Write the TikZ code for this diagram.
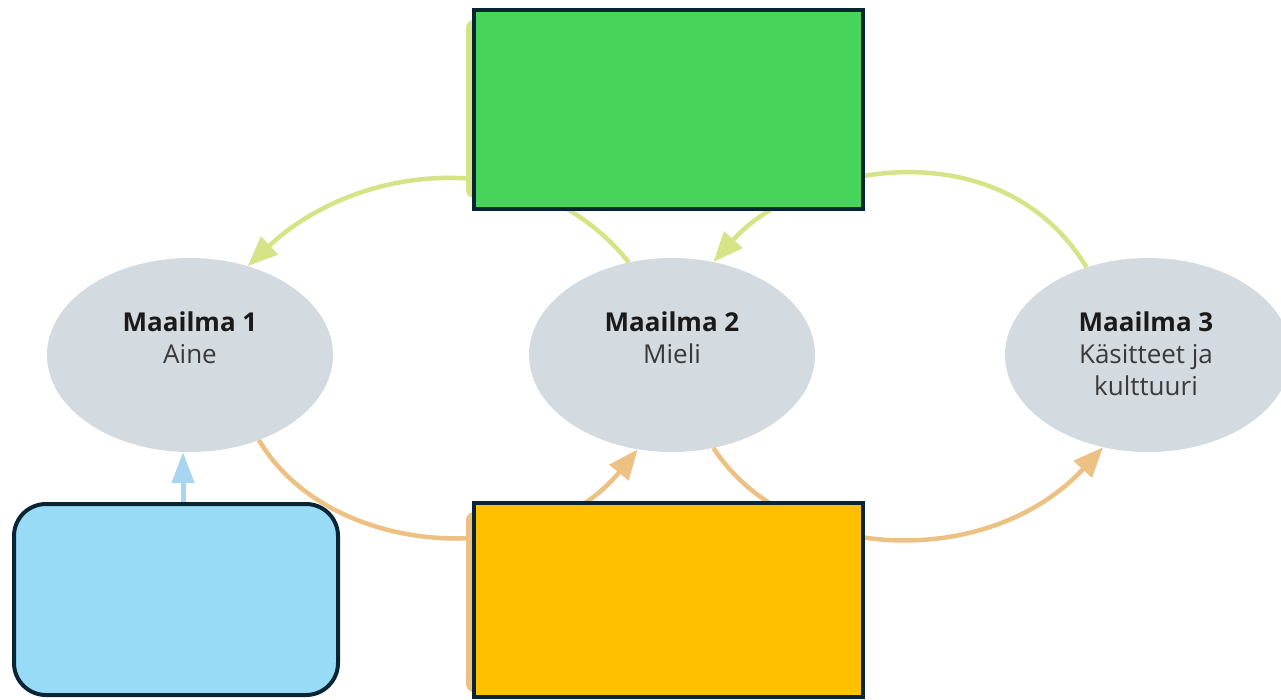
\documentclass[tikz,border=0pt]{standalone}
\usepackage{fontspec}
\setmainfont{Open Sans}
\usetikzlibrary{arrows.meta,shapes.geometric,calc}
\definecolor{navy}{HTML}{082535}
\definecolor{boxgreen}{HTML}{47D45B}
\definecolor{boxorange}{HTML}{FFC000}
\definecolor{boxblue}{HTML}{98DBF7}
\definecolor{worldgray}{HTML}{D3DAE0}
\definecolor{arrgreen}{HTML}{D7E387}
\definecolor{arrorange}{HTML}{EDC184}
\definecolor{arrblue}{HTML}{A8D5F0}
\definecolor{txtdark}{HTML}{1A1A1A}
\definecolor{txtgray}{HTML}{3A3A3A}
\tikzset{
  world/.style={ellipse, fill=worldgray, draw=none, minimum width=286pt, minimum height=194pt, inner sep=0pt},
  wtext/.style={align=center, anchor=base, inner sep=0pt, text=txtgray, font=\fontsize{26}{32}\selectfont},
  ghostgreen/.style={rectangle, rounded corners=8pt, fill=arrgreen, draw=none, minimum width=394pt, minimum height=178pt, inner sep=0pt},
  ghostorange/.style={rectangle, rounded corners=8pt, fill=arrorange, draw=none, minimum width=394pt, minimum height=180pt, inner sep=0pt},
  bigbox/.style={rectangle, draw=navy, line width=4pt, minimum width=389pt, inner sep=0pt},
  bluebox/.style={rectangle, rounded corners=32pt, draw=navy, fill=boxblue, line width=4pt, minimum width=324pt, minimum height=191pt, inner sep=0pt},
  tiphead/.style={-{Triangle[length=30pt,width=24pt]}},
  garrow/.style={tiphead, draw=arrgreen, line width=4.5pt},
  oarrow/.style={tiphead, draw=arrorange, line width=4.5pt},
  barrow/.style={-{Triangle[length=31pt,width=22pt]}, draw=arrblue, line width=5pt},
}
\begin{document}
\begin{tikzpicture}[x=1pt,y=-1pt]
\useasboundingbox (0,0) rectangle (1281,699);
% ghosts behind the boxes
\node[ghostgreen] (gg) at (663,109) {};
\node[ghostorange] (go) at (663,602) {};
% worlds
\node[world] (e1) at (190,355) {};
\node[world] (e2) at (672,355) {};
\node[world] (e3) at (1148,355) {};
\node[wtext] (t1) at (190,363) {\textcolor{txtdark}{\bfseries Maailma 1}\\Aine};
\node[wtext] (t2) at (672,363) {\textcolor{txtdark}{\bfseries Maailma 2}\\Mieli};
\node[wtext] (t3) at (1146,395) {\textcolor{txtdark}{\bfseries Maailma 3}\\Käsitteet ja\\kulttuuri};
% connectors
\draw[garrow] (e2.115.6) .. controls (530,140) and (355,165) .. (e1.57.7);
\draw[garrow] (e3.125.9) .. controls (1000,125) and (800,165) .. (e2.66.5);
\draw[oarrow] (e1.-51.8) .. controls (330,560) and (540,570) .. (e2.-110);
\draw[oarrow] (e2.-66) .. controls (790,565) and (990,570) .. (e3.-116.6);
% boxes
\node[bigbox, fill=boxgreen, minimum height=199pt] (gbox) at (668.5,109.5) {};
\node[bigbox, fill=boxorange, minimum height=194pt] (obox) at (668.5,600) {};
\node[bluebox] (bbox) at (176,599.5) {};
\draw[barrow] ($(bbox.north)!.5!(bbox.north -| e1.south)$) coordinate (bs) -- (bs |- e1.south);
\end{tikzpicture}
\end{document}
